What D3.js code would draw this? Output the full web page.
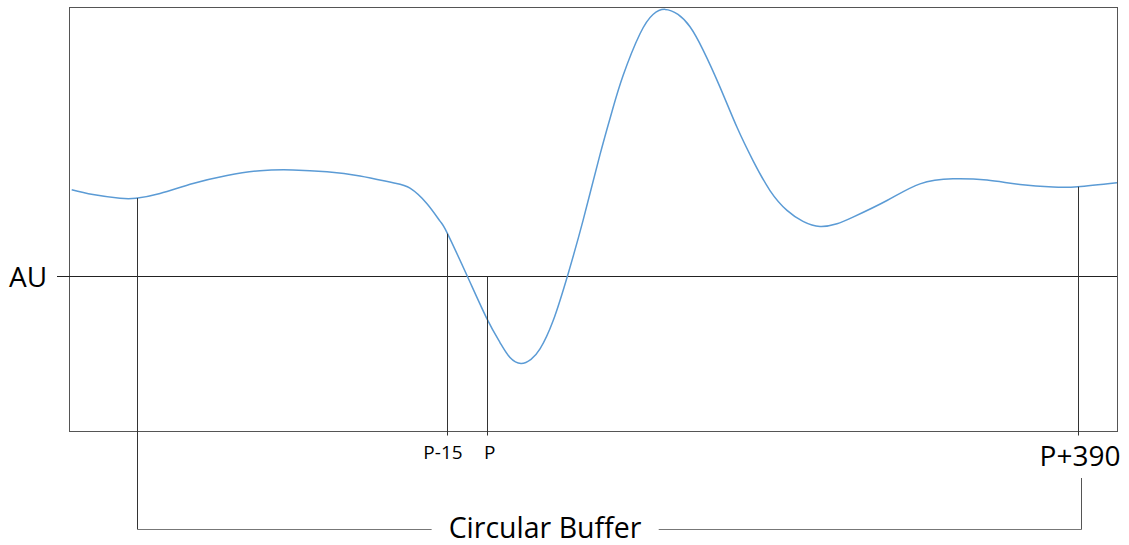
<!DOCTYPE html>
<html>
<head>
<meta charset="utf-8">
<script src="https://cdn.jsdelivr.net/npm/d3@7"></script>
<style>
  html, body { margin: 0; padding: 0; background: #fff; }
  svg { display: block; font-family: "Open Sans", "Noto Sans", sans-serif; }
</style>
</head>
<body>
<svg id="chart" width="1129" height="545"></svg>
<script>
// ---- Data (schematic waveform, time in samples, amplitude in AU-relative units) ----
const times = [2.7, 24, 51, 67, 91, 124, 158, 191, 224, 258, 291, 324, 341, 358, 371, 378,
  398, 418, 431, 441, 452, 462, 471, 484, 499, 514, 531, 543, 554, 571, 584, 596, 609, 621, 634, 651, 668,
  684, 701, 718, 734, 751, 768, 784, 818, 851, 884, 918, 951, 984, 1009, 1048];
const values = [3.20, 3.02, 2.88, 2.88, 3.06, 3.43, 3.73, 3.91, 3.94, 3.87, 3.71, 3.46, 3.26, 2.68, 2.03, 1.60,
  0.00, -1.62, -2.50, -3.06, -3.28, -3.13, -2.74, -1.70, 0.05, 2.05, 4.51, 6.12, 7.45, 9.02, 9.74, 9.93, 9.74, 9.28, 8.42, 7.03, 5.53,
  4.29, 3.17, 2.43, 2.02, 1.83, 1.93, 2.18, 2.80, 3.42, 3.61, 3.56, 3.40, 3.30, 3.31, 3.46];
const markerLabels = ["P-15", "P", "P+390"];
const markerTimes = [378, 417.7, 1009];
const bufferStartTime = 67.5;
const bufferEndTime = 1012.5;
const axisLabel = "AU";
const bufferLabel = "Circular Buffer";

// ---- Layout ----
const svg = d3.select("#chart");
const margin = { left: 69, top: 7.5 };
const W = 1048, H = 424;
const x = d3.scaleLinear().domain([0, 1048]).range([margin.left, margin.left + W]);
const y = d3.scaleLinear().domain([-5.82, 10]).range([margin.top + H, margin.top]);

const data = times.map((t, i) => ({ t, v: values[i] }));

// Frame
svg.append("rect")
  .attr("x", x(0) + 0.5).attr("y", margin.top)
  .attr("width", W).attr("height", H)
  .attr("fill", "none").attr("stroke", "#555").attr("stroke-width", 1);

// AU baseline
const y0 = Math.round(y(0)) + 0.5;
svg.append("line")
  .attr("x1", 57).attr("x2", x(1048))
  .attr("y1", y0).attr("y2", y0)
  .attr("stroke", "#222").attr("stroke-width", 1);

svg.append("text")
  .attr("x", 28).attr("y", y0)
  .attr("dy", "0.36em")
  .attr("text-anchor", "middle")
  .attr("font-size", 28)
  .attr("fill", "#000")
  .text(axisLabel);

// Curve
const line = d3.line().x(d => x(d.t)).y(d => y(d.v)).curve(d3.curveNatural);
const path = svg.append("path")
  .datum(data)
  .attr("d", line)
  .attr("fill", "none")
  .attr("stroke", "#5B9BD5")
  .attr("stroke-width", 1.5);

// find curve y at a given x pixel
const pNode = path.node();
const totalLen = pNode.getTotalLength();
function curveYAt(px) {
  let lo = 0, hi = totalLen;
  for (let i = 0; i < 40; i++) {
    const mid = (lo + hi) / 2;
    if (pNode.getPointAtLength(mid).x < px) lo = mid; else hi = mid;
  }
  return pNode.getPointAtLength((lo + hi) / 2).y;
}

const bottom = margin.top + H;
const bracketY = 529.5;

// Buffer start vertical (curve -> bracket)
const xs = Math.round(x(bufferStartTime)) + 0.5;
svg.append("line")
  .attr("x1", xs).attr("x2", xs)
  .attr("y1", curveYAt(xs)).attr("y2", bracketY)
  .attr("stroke", "#333").attr("stroke-width", 1);

// Marker verticals
markerTimes.forEach((t, i) => {
  const xp = Math.round(x(t)) + 0.5;
  const top = markerLabels[i] === "P" ? y0 : curveYAt(xp);
  svg.append("line")
    .attr("x1", xp).attr("x2", xp)
    .attr("y1", top).attr("y2", bottom + 4)
    .attr("stroke", "#333").attr("stroke-width", 1);
});

// Marker labels
const labelSpecs = [
  { size: 19, dx: -4, y: 459 },
  { size: 19, dx: 3, y: 459 },
  { size: 28, dx: 2, y: 466 }
];
markerTimes.forEach((t, i) => {
  svg.append("text")
    .attr("x", x(t) + labelSpecs[i].dx)
    .attr("y", labelSpecs[i].y)
    .attr("text-anchor", "middle")
    .attr("font-size", labelSpecs[i].size)
    .attr("fill", "#000")
    .text(markerLabels[i]);
});

// Circular buffer bracket
const xe = Math.round(x(bufferEndTime)) + 0.5;
const labelCx = 545;
const bt = svg.append("text")
  .attr("x", labelCx).attr("y", 538)
  .attr("text-anchor", "middle")
  .attr("font-size", 28.5)
  .attr("fill", "#000")
  .text(bufferLabel);
const bb = bt.node().getBBox();
svg.append("line")
  .attr("x1", xs).attr("x2", bb.x - 17)
  .attr("y1", bracketY).attr("y2", bracketY)
  .attr("stroke", "#777").attr("stroke-width", 1);
svg.append("line")
  .attr("x1", bb.x + bb.width + 17).attr("x2", xe)
  .attr("y1", bracketY).attr("y2", bracketY)
  .attr("stroke", "#777").attr("stroke-width", 1);
svg.append("line")
  .attr("x1", xe).attr("x2", xe)
  .attr("y1", 478).attr("y2", bracketY)
  .attr("stroke", "#555").attr("stroke-width", 1);
</script>
</body>
</html>
